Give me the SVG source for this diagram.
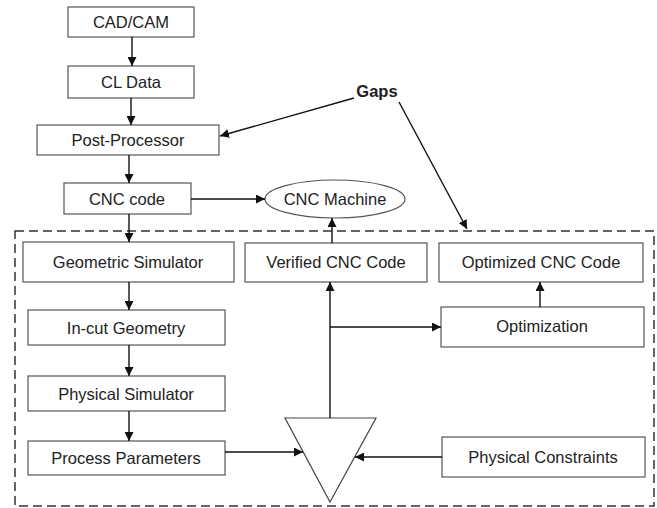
<svg xmlns="http://www.w3.org/2000/svg" width="657" height="508" viewBox="0 0 657 508">
<defs>
<style>
.box{fill:#fff;stroke:#555;stroke-width:1.2}
.t{font-family:"Liberation Sans",Arial,sans-serif;font-size:16.5px;fill:#222;text-anchor:middle;dominant-baseline:central}
.b{font-weight:bold}
.c{stroke:#111;stroke-width:1.4;fill:none}
.dash{fill:none;stroke:#333;stroke-width:1.5;stroke-dasharray:9 5}
</style>
<marker id="a" viewBox="0 0 10 10" refX="10" refY="5" markerWidth="9" markerHeight="9" markerUnits="userSpaceOnUse" orient="auto">
<path d="M0,0 L10,5 L0,10 z" fill="#111"/>
</marker>
</defs>
<rect width="657" height="508" fill="#fff"/>
<rect class="dash" x="15" y="231" width="639" height="275"/>
<g id="cadcam"><rect class="box" x="68" y="7" width="126" height="30"/><text class="t" x="131" y="22">CAD/CAM</text></g>
<g id="cldata"><rect class="box" x="68" y="66" width="126" height="32"/><text class="t" x="131" y="82">CL Data</text></g>
<g id="post"><rect class="box" x="37" y="125" width="182" height="30"/><text class="t" x="128" y="140">Post-Processor</text></g>
<g id="cnccode"><rect class="box" x="64" y="183" width="127" height="31"/><text class="t" x="127" y="198.5">CNC code</text></g>
<g id="machine"><ellipse class="box" cx="335" cy="199" rx="70" ry="19"/><text class="t" x="335" y="199">CNC Machine</text></g>
<g id="gaps"><text class="t b" x="377" y="91">Gaps</text></g>
<g id="geo"><rect class="box" x="23" y="242" width="211" height="40"/><text class="t" x="128" y="262">Geometric Simulator</text></g>
<g id="verified"><rect class="box" x="245" y="243" width="182" height="39"/><text class="t" x="336" y="262">Verified CNC Code</text></g>
<g id="optcode"><rect class="box" x="439" y="243" width="204" height="39"/><text class="t" x="541" y="262">Optimized CNC Code</text></g>
<g id="optim"><rect class="box" x="441" y="307" width="203" height="40"/><text class="t" x="542" y="326">Optimization</text></g>
<g id="incut"><rect class="box" x="28" y="310" width="197" height="35"/><text class="t" x="126" y="327.5">In-cut Geometry</text></g>
<g id="physsim"><rect class="box" x="28" y="376" width="197" height="35"/><text class="t" x="126" y="393.5">Physical Simulator</text></g>
<g id="procpar"><rect class="box" x="28" y="441" width="197" height="34"/><text class="t" x="126" y="458">Process Parameters</text></g>
<g id="physcon"><rect class="box" x="442" y="437" width="203" height="40"/><text class="t" x="543" y="457">Physical Constraints</text></g>
<g id="triangle"><polygon points="285,418 376,418 330,502" fill="#fff" stroke="#444" stroke-width="1.2"/></g>
<g id="connectors">
<line class="c" x1="132" y1="37" x2="132" y2="66" marker-end="url(#a)"/>
<line class="c" x1="131" y1="98" x2="131" y2="125" marker-end="url(#a)"/>
<line class="c" x1="129" y1="155" x2="129" y2="183" marker-end="url(#a)"/>
<line class="c" x1="191" y1="199" x2="265" y2="199" marker-end="url(#a)"/>
<line class="c" x1="129" y1="214" x2="129" y2="242" marker-end="url(#a)"/>
<line class="c" x1="129" y1="282" x2="129" y2="310" marker-end="url(#a)"/>
<line class="c" x1="129" y1="345" x2="129" y2="376" marker-end="url(#a)"/>
<line class="c" x1="129" y1="411" x2="129" y2="441" marker-end="url(#a)"/>
<line class="c" x1="354" y1="98" x2="220" y2="136" marker-end="url(#a)"/>
<line class="c" x1="399" y1="102" x2="467" y2="229" marker-end="url(#a)"/>
<line class="c" x1="332" y1="243" x2="332" y2="218" marker-end="url(#a)"/>
<line class="c" x1="330" y1="418" x2="330" y2="282" marker-end="url(#a)"/>
<line class="c" x1="330" y1="327" x2="441" y2="327" marker-end="url(#a)"/>
<line class="c" x1="540" y1="307" x2="540" y2="282" marker-end="url(#a)"/>
<line class="c" x1="225" y1="452" x2="303" y2="452" marker-end="url(#a)"/>
<line class="c" x1="442" y1="457" x2="355" y2="457" marker-end="url(#a)"/>
</g>
</svg>
